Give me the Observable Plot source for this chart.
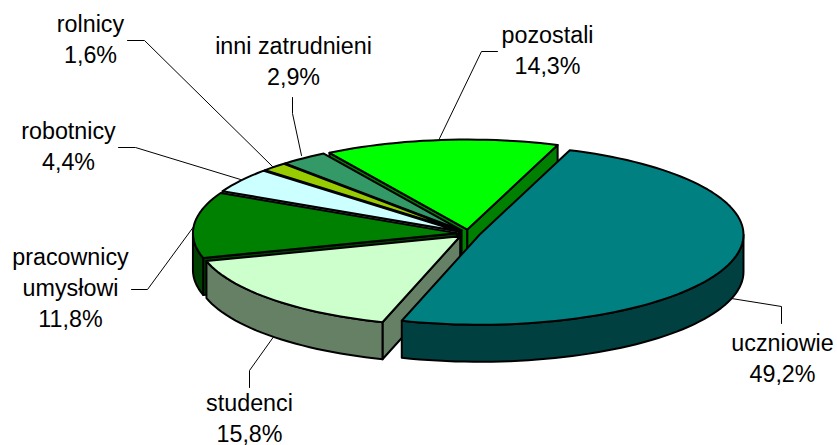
<!DOCTYPE html>
<html>
<head>
<meta charset="utf-8">
<script src="https://cdn.jsdelivr.net/npm/d3@7"></script>
<script src="https://cdn.jsdelivr.net/npm/@observablehq/plot@0.6"></script>
<style>html,body{margin:0;padding:0;background:#fff}svg{display:block}</style>
</head>
<body>
<div id="chart"></div>
<script>
const categories = ["uczniowie","studenci","pracownicy\numysłowi","robotnicy","rolnicy","inni zatrudnieni","pozostali"];
const shares = [49.2,15.8,11.8,4.4,1.6,2.9,14.3];
const topColors = ["#008080","#CCFFCC","#008000","#CCFFFF","#99CC00","#339966","#00FF00"];
const sideColors = ["#004040","#668066","#004000","#668080","#4D6600","#1A4D33","#008000"];

// label placement (last-line baseline) and leader polylines, in picture units
const labelX = [782,249,70,68,90,293,547];
const labelY = [381,441,326,169,62,84,73];
const leaders = [
  [[781,323],[781,306],[731,298]],
  [[249,387],[249,370],[274,335]],
  [[131,289],[147,289],[194,225]],
  [[118,147],[135,147],[240,179]],
  [[127,40],[144,40],[272,166]],
  [[292,97],[292,113],[301,155]],
  [[497,51],[481,51],[439,138]]
];

// pie geometry
const cx = 468, cy = 233, rx = 264, ry = 90, depth = 37, explode = 11.6, startDeg = 20;
const rad = d => d * Math.PI / 180;
const pt = (c, deg) => [c[0] + rx * Math.sin(rad(deg)), c[1] - ry * Math.cos(rad(deg))];
const down = p => [p[0], p[1] + depth];
const arc = (c, a, b) => {
  const n = Math.max(2, Math.ceil(Math.abs(b - a) / 2));
  return d3.range(n + 1).map(i => pt(c, a + (b - a) * i / n));
};

let acc = startDeg;
const slices = shares.map((v, i) => {
  const s = acc, e = acc + v * 3.6;
  acc = e;
  const m = (s + e) / 2;
  const c = [cx + explode * Math.sin(rad(m)), cy - explode * ry / rx * Math.cos(rad(m))];
  return {i, s, e, c};
});

const faces = [];
for (const sl of slices.slice().reverse()) {
  const {i, s, e, c} = sl;
  const side = sideColors[i];
  const wall = p => [c, p, down(p), down(c)];
  if (Math.cos(rad(s - 90)) < 0) faces.push({pts: wall(pt(c, s)), fill: side});
  if (Math.cos(rad(e + 90)) < 0) faces.push({pts: wall(pt(c, e)), fill: side});
  // rim: only the front half of the ellipse (90..270 deg) shows
  const a = Math.max(s, 90), b = Math.min(e, 270);
  if (b > a) {
    const top = arc(c, a, b);
    faces.push({pts: [...top, ...top.slice().reverse().map(down)], fill: side});
  }
  faces.push({pts: [c, ...arc(c, s, e)], fill: topColors[i]});
}

const fmt = v => v.toFixed(1).replace(".", ",") + "%";
const labels = categories.map((n, i) => ({text: n + "\n" + fmt(shares[i]), x: labelX[i], y: labelY[i]}));

const plot = Plot.plot({
  width: 837, height: 445,
  margin: 0,
  x: {domain: [0, 837], range: [0, 837], axis: null},
  y: {domain: [0, 445], range: [0, 445], axis: null},
  marks: [
    ...leaders.map(l => Plot.line(l, {x: d => d[0], y: d => d[1], stroke: "#000", strokeWidth: 1})),
    ...faces.map(f => Plot.line(f.pts, {
      x: d => d[0], y: d => d[1], curve: "linear-closed",
      fill: f.fill, stroke: "#000", strokeWidth: 2, strokeLinejoin: "round"
    })),
    Plot.text(labels, {
      x: "x", y: "y", text: "text", lineAnchor: "bottom", textAnchor: "middle",
      fontSize: 23.3, lineHeight: 1.31, fill: "#000", fontFamily: "Liberation Sans"
    })
  ]
});
plot.style.fontFamily = "Liberation Sans";
document.getElementById("chart").append(plot);
</script>
</body>
</html>
